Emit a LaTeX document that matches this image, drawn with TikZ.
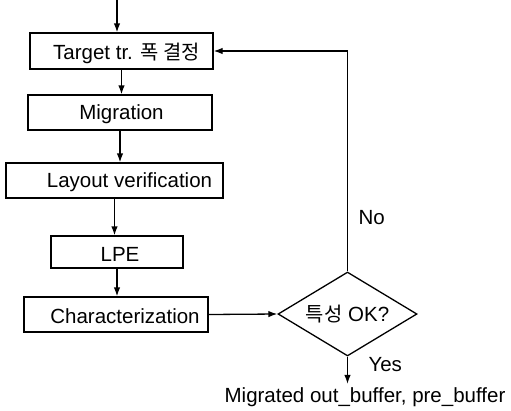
\documentclass[tikz,border=0pt]{standalone}
\usepackage{fontspec}
\setmainfont{Liberation Sans}
\newfontfamily\kr[Scale=0.97]{Noto Sans CJK KR}
\usetikzlibrary{shapes.geometric,arrows.meta}

\tikzset{
  every node/.style={font=\fontsize{20.5}{22}\selectfont},
  stepbox/.style={draw, line width=1.3pt, inner sep=0pt, minimum height=35pt},
  decision/.style={draw, diamond, line width=1.3pt, inner sep=0pt, aspect=1.65,
                   minimum width=139pt, minimum height=84pt},
  flow/.style={line width=1.3pt, -{Latex[length=9pt,width=6.5pt]}},
}

\begin{document}
\begin{tikzpicture}[x=1pt, y=-1pt]
  \useasboundingbox (0,0) rectangle (511,410);

  \coordinate (start) at (117,0);

  \node[stepbox, minimum width=183pt, minimum height=36pt,
        label={[xshift=5pt, yshift=-2pt]center:Target tr. {\kr 폭 결정}}] (b1) at (121.5,51) {};
  \node[stepbox, minimum width=184pt,
        label={[xshift=1.5pt, yshift=-2pt]center:Migration}] (b2) at (120,112.5) {};
  \node[stepbox, minimum width=217pt,
        label={[xshift=15pt, yshift=-2pt]center:Layout verification}] (b3) at (114.5,180.5) {};
  \node[stepbox, minimum width=132pt, minimum height=32pt,
        label={[xshift=3pt, yshift=-2pt]center:LPE}] (b4) at (117,252) {};
  \node[stepbox, minimum width=184pt,
        label={[xshift=9pt, yshift=-2pt]center:Characterization}] (b5) at (116,314.5) {};

  \node[decision] (d) at (347.5,314) {{\kr 특성} OK?};

  \node[anchor=west] (no) at (355,218) {No};
  \node[anchor=west] (yes) at (365,365) {Yes};
  \node (out) at (365,397) {Migrated out\_buffer, pre\_buffer};

  % main flow
  \draw[flow] (start) -- (start |- b1.north);
  \draw[flow] (b1.south) -- (b1.south |- b2.north);
  \draw[flow] (b2.south) -- (b2.south |- b3.north);
  \draw[flow] (b3.south) -- (b3.south |- b4.north);
  \draw[flow] (b4.south) -- (b4.south |- b5.north);
  \draw[flow] (b5.east) -- (d.west);

  % decision outcomes
  \draw[flow] (d.north) |- (b1.east);
  \draw[flow] (d.south) -- (d.south |- out.north);
\end{tikzpicture}
\end{document}
